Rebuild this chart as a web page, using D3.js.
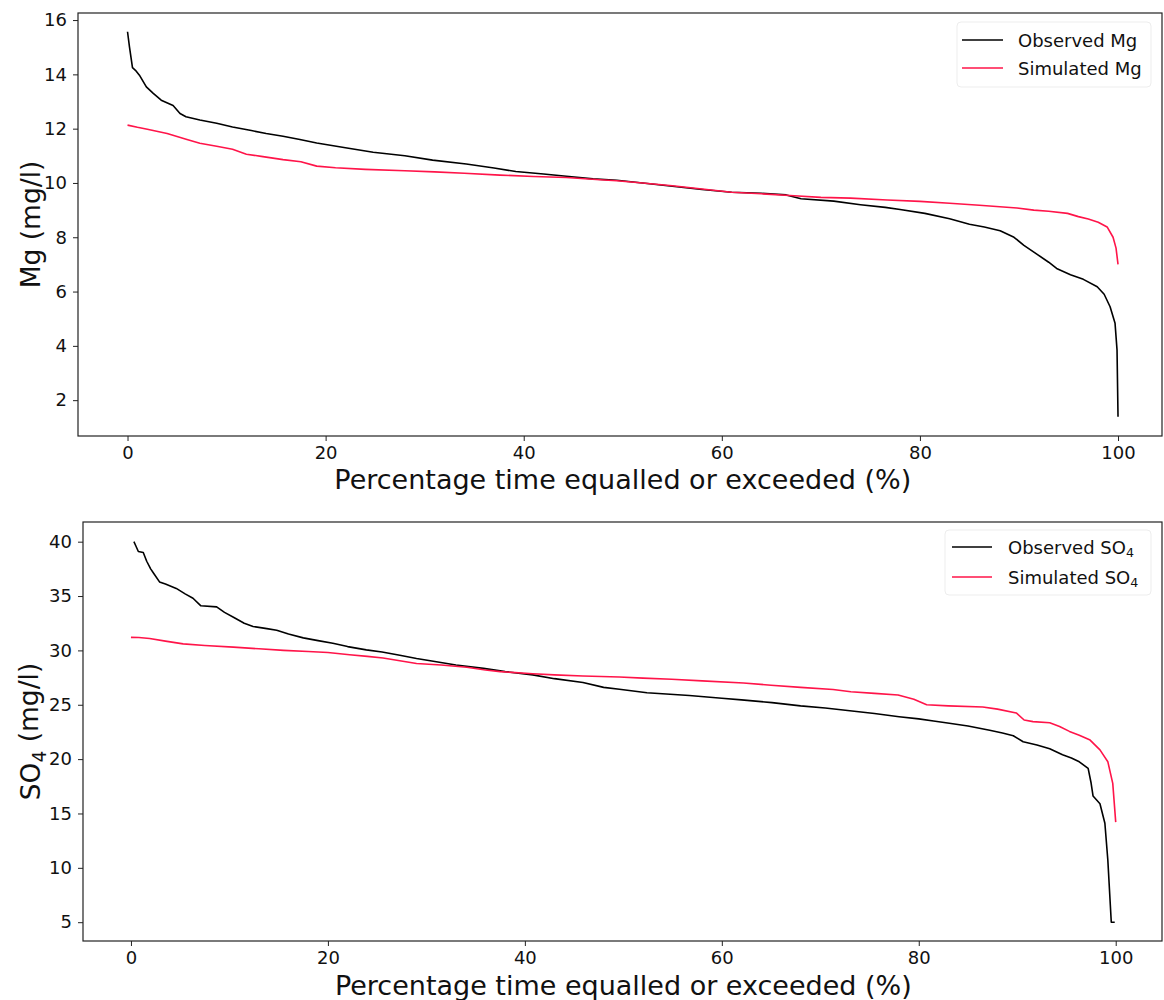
<!DOCTYPE html>
<html>
<head>
<meta charset="utf-8">
<script src="https://cdn.jsdelivr.net/npm/d3@7"></script>
<style>
  html, body { margin: 0; padding: 0; background: #fff; }
  svg { display: block; font-family: "DejaVu Sans", sans-serif; }
</style>
</head>
<body>
<svg id="chart" width="1164" height="1000"></svg>
<script>
// Flow-duration style curves: percentage of time a concentration is equalled or exceeded.
const xTicks = [0, 20, 40, 60, 80, 100];
const mgTicks = [2, 4, 6, 8, 10, 12, 14, 16];
const so4Ticks = [5, 10, 15, 20, 25, 30, 35, 40];
const xLabel = "Percentage time equalled or exceeded (%)";

// Magnesium (mg/l)
const mgObservedPct = [0, 0.2, 0.5, 0.8, 1.2, 1.9, 2.6, 3.4, 4.6, 5.3, 5.9, 7.3, 9, 10.6, 12.5, 14, 15.7, 17.4, 19.1, 22, 24.8, 28, 30.8, 34.2, 37, 39.2, 42, 44.3, 47, 49.4, 52, 55, 58, 61, 64, 66.5, 68, 71.3, 74, 76.5, 78, 80.5, 83, 85, 86.5, 88.1, 89.5, 90.5, 91.8, 93, 93.8, 95.2, 96.5, 97.9, 98.6, 99.2, 99.7, 99.9, 100];
const mgObserved = [15.57, 15.0, 14.25, 14.15, 13.97, 13.54, 13.3, 13.05, 12.85, 12.56, 12.44, 12.32, 12.2, 12.06, 11.93, 11.82, 11.72, 11.6, 11.47, 11.3, 11.13, 11.0, 10.84, 10.7, 10.55, 10.42, 10.33, 10.25, 10.15, 10.1, 10.0, 9.88, 9.76, 9.66, 9.62, 9.56, 9.42, 9.33, 9.2, 9.1, 9.02, 8.88, 8.68, 8.48, 8.38, 8.24, 8.0, 7.7, 7.38, 7.08, 6.85, 6.62, 6.45, 6.18, 5.9, 5.44, 4.83, 3.85, 1.39];
const mgSimulatedPct = [0, 1, 2, 4, 6, 7.3, 9, 10.6, 12, 13.5, 15.7, 17.5, 19.1, 21, 24, 28, 31, 34, 37.6, 41, 44.3, 47.7, 49.4, 52, 55, 58, 61, 64, 67.3, 70, 73, 76.7, 80, 83, 86, 89.8, 91.5, 93, 94.9, 96, 97, 98, 98.9, 99.5, 99.8, 100];
const mgSimulated = [12.13, 12.05, 11.98, 11.82, 11.6, 11.46, 11.35, 11.24, 11.06, 10.98, 10.86, 10.78, 10.62, 10.56, 10.5, 10.45, 10.41, 10.36, 10.29, 10.24, 10.2, 10.12, 10.08, 10.0, 9.9, 9.78, 9.66, 9.6, 9.53, 9.47, 9.44, 9.37, 9.32, 9.25, 9.18, 9.08, 9.0, 8.96, 8.88, 8.76, 8.67, 8.55, 8.38, 8.0, 7.6, 7.0];

// Sulphate (mg/l)
const so4ObservedPct = [0.3, 0.5, 0.75, 1.25, 1.6, 2.0, 2.3, 2.9, 3.5, 4.6, 5.5, 6.3, 7.1, 8.7, 9.5, 10.5, 11.5, 12.4, 13.8, 14.8, 16, 17.5, 19, 20.5, 22, 23.9, 25.5, 27.3, 29, 30.7, 33, 35.8, 38, 40.8, 43, 45.9, 48, 49.6, 52.4, 56.7, 60, 62, 65.1, 68, 70.5, 73, 75.5, 78, 80, 81.5, 83.1, 85, 87.2, 88.5, 89.6, 90.6, 92, 93.3, 94.6, 95.5, 96.3, 97.2, 97.5, 97.7, 98.4, 98.9, 99.2, 99.55, 99.9];
const so4Observed = [40.0, 39.6, 39.1, 39.0, 38.2, 37.5, 37.1, 36.3, 36.1, 35.7, 35.2, 34.8, 34.1, 34.0, 33.5, 33.0, 32.5, 32.2, 32.0, 31.85, 31.5, 31.15, 30.9, 30.65, 30.35, 30.05, 29.85, 29.55, 29.25, 29.0, 28.65, 28.35, 28.05, 27.75, 27.4, 27.05, 26.6, 26.42, 26.1, 25.85, 25.6, 25.45, 25.2, 24.9, 24.7, 24.45, 24.2, 23.9, 23.7, 23.5, 23.3, 23.05, 22.65, 22.4, 22.15, 21.6, 21.3, 20.95, 20.4, 20.1, 19.75, 19.15, 17.8, 16.6, 15.9, 14.1, 10.7, 5.0, 5.0];
const so4SimulatedPct = [0, 0.8, 1.9, 3.5, 5.3, 7.5, 10.4, 13, 15.5, 18, 20, 22.2, 24, 25.6, 27.3, 29, 31.5, 34.1, 36, 37.5, 40.8, 43, 45.9, 49.6, 52, 54.9, 58, 62.2, 65, 68, 71.3, 73.1, 75.5, 77.9, 79.5, 80.8, 83, 86.5, 88, 89.9, 90.7, 91.6, 93.3, 94.3, 95.3, 96.3, 97.4, 98.4, 99.2, 99.7, 100];
const so4Simulated = [31.2, 31.18, 31.1, 30.85, 30.6, 30.45, 30.3, 30.15, 30.0, 29.9, 29.8, 29.6, 29.45, 29.3, 29.05, 28.8, 28.65, 28.45, 28.2, 28.05, 27.85, 27.75, 27.65, 27.55, 27.45, 27.35, 27.2, 27.0, 26.8, 26.6, 26.4, 26.2, 26.05, 25.9, 25.5, 25.0, 24.9, 24.8, 24.6, 24.25, 23.6, 23.45, 23.35, 23.0, 22.55, 22.2, 21.75, 20.85, 19.76, 17.77, 14.2];

const OBS_COLOR = "#000000";
const SIM_COLOR = "#ff1449";

const svg = d3.select("#chart");

function zip(xs, ys) { return xs.map((x, i) => [x, ys[i]]); }

function panel(cfg) {
  const g = svg.append("g");
  const x = d3.scaleLinear().domain(cfg.xDomain).range([cfg.left, cfg.right]);
  const y = d3.scaleLinear().domain(cfg.yDomain).range([cfg.bottom, cfg.top]);

  const line = d3.line().x(d => x(d[0])).y(d => y(d[1]));

  // plotted curves, clipped to the axes area
  const clipId = "clip-" + cfg.id;
  svg.append("clipPath").attr("id", clipId).append("rect")
    .attr("x", cfg.left).attr("y", cfg.top)
    .attr("width", cfg.right - cfg.left).attr("height", cfg.bottom - cfg.top);

  const plot = g.append("g").attr("clip-path", `url(#${clipId})`);
  plot.append("path").datum(zip(cfg.obsX, cfg.obsY))
    .attr("d", line).attr("fill", "none")
    .attr("stroke", OBS_COLOR).attr("stroke-width", 1.6).attr("stroke-linejoin", "round");
  plot.append("path").datum(zip(cfg.simX, cfg.simY))
    .attr("d", line).attr("fill", "none")
    .attr("stroke", SIM_COLOR).attr("stroke-width", 1.6).attr("stroke-linejoin", "round");

  // frame
  g.append("rect")
    .attr("x", cfg.left).attr("y", cfg.top)
    .attr("width", cfg.right - cfg.left).attr("height", cfg.bottom - cfg.top)
    .attr("fill", "none").attr("stroke", "#222").attr("stroke-width", 1.2);

  // axes
  const xAxis = g.append("g").attr("transform", `translate(0,${cfg.bottom})`)
    .call(d3.axisBottom(x).tickValues(xTicks).tickSize(5).tickPadding(5).tickFormat(d3.format("d")));
  const yAxis = g.append("g").attr("transform", `translate(${cfg.left},0)`)
    .call(d3.axisLeft(y).tickValues(cfg.yTicks).tickSize(5).tickPadding(6).tickFormat(d3.format("d")));
  [xAxis, yAxis].forEach(a => {
    a.select(".domain").remove();
    a.selectAll(".tick line").attr("stroke", "#222").attr("stroke-width", 1);
    a.selectAll(".tick text").attr("fill", "#111")
      .style("font-family", "DejaVu Sans, sans-serif").style("font-size", "18px");
  });

  // axis titles
  g.append("text")
    .attr("x", (x(0) + x(100)) / 2).attr("y", cfg.xLabelY)
    .attr("text-anchor", "middle")
    .style("font-size", "27px").attr("fill", "#111")
    .text(xLabel);

  const yt = g.append("text")
    .attr("transform", `translate(${cfg.yLabelX},${(cfg.top + cfg.bottom) / 2}) rotate(-90)`)
    .attr("text-anchor", "middle")
    .style("font-size", "26.5px").attr("fill", "#111");
  cfg.yLabel(yt);

  // legend
  const lg = g.append("g");
  lg.append("rect")
    .attr("x", cfg.legend.x0).attr("y", cfg.legend.y0)
    .attr("width", cfg.legend.x1 - cfg.legend.x0).attr("height", cfg.legend.y1 - cfg.legend.y0)
    .attr("rx", 4).attr("fill", "#fff").attr("fill-opacity", 0.8)
    .attr("stroke", "#ededed").attr("stroke-width", 1);
  const entries = [
    { color: OBS_COLOR, label: cfg.obsLabel },
    { color: SIM_COLOR, label: cfg.simLabel }
  ];
  entries.forEach((e, i) => {
    const cy = cfg.legend.firstY + i * cfg.legend.step;
    lg.append("line")
      .attr("x1", cfg.legend.lineX0).attr("x2", cfg.legend.lineX1)
      .attr("y1", cy).attr("y2", cy)
      .attr("stroke", e.color).attr("stroke-width", 1.6);
    const t = lg.append("text")
      .attr("x", cfg.legend.textX).attr("y", cy + 6.5)
      .style("font-size", "18px").attr("fill", "#111");
    e.label(t);
  });
}

function subscriptLabel(base, sub, rest) {
  return t => {
    t.append("tspan").text(base);
    t.append("tspan").attr("dy", "0.3em").style("font-size", "0.7em").text(sub);
    if (rest) t.append("tspan").attr("dy", "-0.3em").text(rest);
  };
}

panel({
  id: "mg",
  left: 78, right: 1162, top: 13, bottom: 436,
  xDomain: [-5, 104.44], yDomain: [0.68, 16.26],
  yTicks: mgTicks,
  obsX: mgObservedPct, obsY: mgObserved,
  simX: mgSimulatedPct, simY: mgSimulated,
  xLabelY: 489, yLabelX: 40,
  yLabel: t => t.text("Mg (mg/l)"),
  obsLabel: t => t.text("Observed Mg"),
  simLabel: t => t.text("Simulated Mg"),
  legend: { x0: 957, x1: 1151, y0: 22, y1: 87, firstY: 40, step: 28, lineX0: 962, lineX1: 1003, textX: 1018 }
});

panel({
  id: "so4",
  left: 83, right: 1162, top: 522, bottom: 941,
  xDomain: [-4.87, 104.7], yDomain: [3.27, 41.81],
  yTicks: so4Ticks,
  obsX: so4ObservedPct, obsY: so4Observed,
  simX: so4SimulatedPct, simY: so4Simulated,
  xLabelY: 994.5, yLabelX: 40,
  yLabel: subscriptLabel("SO", "4", " (mg/l)"),
  obsLabel: subscriptLabel("Observed SO", "4"),
  simLabel: subscriptLabel("Simulated SO", "4"),
  legend: { x0: 945, x1: 1151, y0: 530, y1: 595, firstY: 547, step: 30, lineX0: 952, lineX1: 992, textX: 1008 }
});
</script>
</body>
</html>
